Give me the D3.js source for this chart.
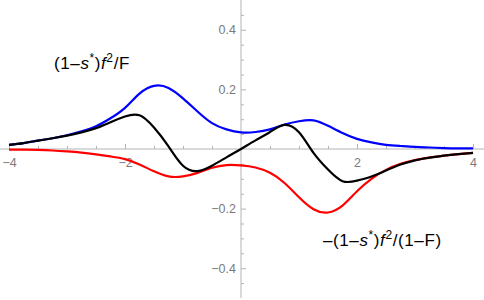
<!DOCTYPE html>
<html>
<head>
<meta charset="utf-8">
<script src="https://cdn.jsdelivr.net/npm/d3@7"></script>
<style>
  body { margin: 0; background: #fff; }
  svg { display: block; }
  .tick text { fill: #7a7a7a; font-family: "Liberation Sans", Arial, sans-serif; font-size: 12.5px; }
  .lbl { font-family: "Liberation Sans", Arial, sans-serif; font-size: 17px; fill: #000; letter-spacing: 0.6px; }
</style>
</head>
<body>
<svg id="chart" width="484" height="300"></svg>
<script>
// ---- data ----
const xs = [-4, -3.75, -3.5, -3.25, -3, -2.75, -2.5, -2.25, -2, -1.75, -1.5, -1.25, -1, -0.75, -0.5, -0.25,
            0, 0.25, 0.5, 0.75, 1, 1.25, 1.5, 1.75, 2, 2.25, 2.5, 2.75, 3, 3.25, 3.5, 3.75, 4];
const blueY = [0.014, 0.020, 0.028, 0.036, 0.046, 0.059, 0.076, 0.103, 0.138, 0.186, 0.212, 0.205, 0.170, 0.126, 0.087, 0.066,
               0.056, 0.057, 0.066, 0.082, 0.093, 0.096, 0.078, 0.054, 0.034, 0.022, 0.014, 0.010, 0.007, 0.005, 0.003, 0.002, 0.002];
const redY  = [-0.002, -0.002, -0.003, -0.005, -0.008, -0.012, -0.018, -0.025, -0.034, -0.052, -0.075, -0.092, -0.092, -0.080, -0.063, -0.054,
               -0.055, -0.062, -0.080, -0.114, -0.162, -0.202, -0.213, -0.190, -0.142, -0.100, -0.070, -0.050, -0.037, -0.029, -0.022, -0.017, -0.013];
const blackY = [0.014, 0.020, 0.028, 0.036, 0.045, 0.056, 0.070, 0.090, 0.109, 0.113, 0.072, 0.009, -0.056, -0.074, -0.056, -0.028,
                0, 0.029, 0.057, 0.081, 0.056, -0.013, -0.069, -0.108, -0.106, -0.092, -0.072, -0.052, -0.038, -0.029, -0.022, -0.017, -0.013];
const xMajor = [-4, -2, 2, 4];
const xMinor = [-3.5, -3, -2.5, -1.5, -1, -0.5, 0.5, 1, 1.5, 2.5, 3, 3.5];
const yMajor = [-0.4, -0.2, 0.2, 0.4];
const yMinor = [-0.45, -0.35, -0.3, -0.25, -0.15, -0.1, -0.05, 0.05, 0.1, 0.15, 0.25, 0.3, 0.35, 0.45];

// ---- scales ----
const W = 484, H = 300;
const x = d3.scaleLinear().domain([-4, 4]).range([9, 473]);
const y = d3.scaleLinear().domain([-0.5, 0.5]).range([298, 0]);
const svg = d3.select("#chart");
const fmt = d => (d < 0 ? "\u2212" : "") + Math.abs(d);
const axisColor = "#b4b4b4";

// x axis
const gx = svg.append("g").attr("transform", `translate(0,${y(0)})`);
gx.append("line").attr("x1", 0).attr("x2", W).attr("stroke", axisColor);
gx.append("g").call(d3.axisBottom(x).tickValues(xMinor).tickSize(-3).tickFormat(""))
  .call(g => g.select(".domain").remove());
gx.append("g").call(d3.axisBottom(x).tickValues(xMajor).tickSize(-5).tickPadding(9.5).tickFormat(fmt))
  .call(g => g.select(".domain").remove());

// y axis
const gy = svg.append("g").attr("transform", `translate(${x(0)},0)`);
gy.append("line").attr("y1", 0).attr("y2", 298).attr("stroke", axisColor);
gy.append("g").call(d3.axisLeft(y).tickValues(yMinor).tickSize(-3).tickFormat(""))
  .call(g => g.select(".domain").remove());
gy.append("g").call(d3.axisLeft(y).tickValues(yMajor).tickSize(-5).tickPadding(5).tickFormat(fmt))
  .call(g => g.select(".domain").remove());

svg.selectAll(".tick line").attr("stroke", axisColor);

// curves
const line = d3.line().x(d => x(d[0])).y(d => y(d[1])).curve(d3.curveNatural);
const series = [
  { vals: blueY, color: "#0000ff" },
  { vals: redY, color: "#ff0000" },
  { vals: blackY, color: "#000000" }
];
series.forEach(s => {
  svg.append("path")
    .datum(xs.map((v, i) => [v, s.vals[i]]))
    .attr("d", line)
    .attr("fill", "none")
    .attr("stroke", s.color)
    .attr("stroke-width", 2.2)
    .attr("stroke-linejoin", "round");
});

// labels
function label(xp, yp, parts) {
  const t = svg.append("text").attr("class", "lbl").attr("x", xp).attr("y", yp);
  parts.forEach(p => {
    const ts = t.append("tspan").text(p.t);
    if (p.i) ts.attr("font-style", "italic");
    if (p.sup) ts.attr("font-size", "12px").attr("dy", "-7");
    if (p.down) ts.attr("dy", "7");
  });
}
label(54, 69, [
  { t: "(1\u2013" }, { t: "s", i: true }, { t: "*", sup: true }, { t: ")", down: true },
  { t: "f", i: true }, { t: "2", sup: true }, { t: "/F", down: true }
]);
label(323, 246, [
  { t: "\u2013(1\u2013" }, { t: "s", i: true }, { t: "*", sup: true }, { t: ")", down: true },
  { t: "f", i: true }, { t: "2", sup: true }, { t: "/(1\u2013F)", down: true }
]);
</script>
</body>
</html>
